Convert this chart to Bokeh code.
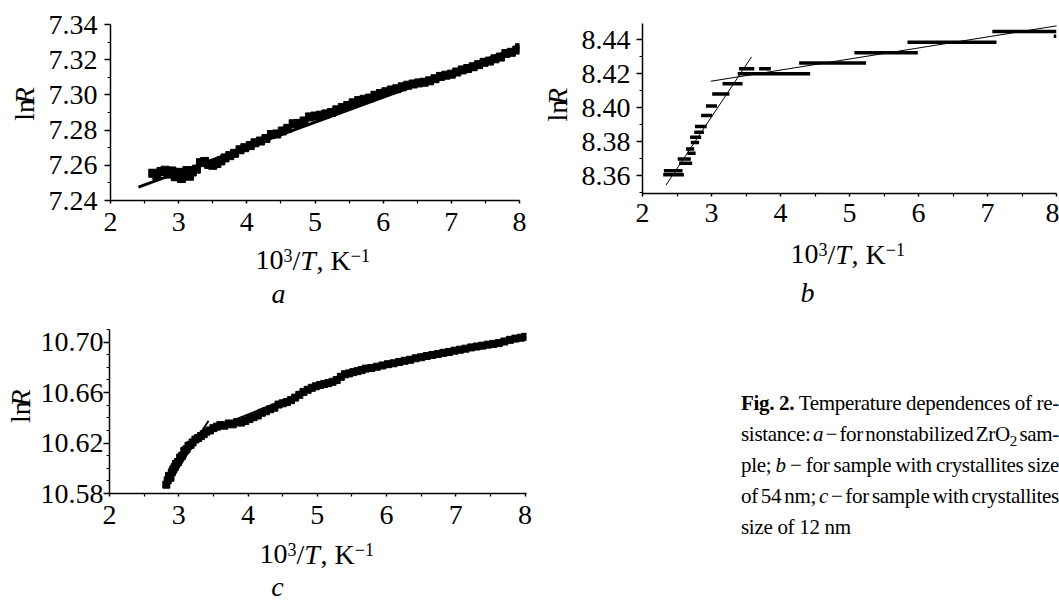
import math
from bokeh.plotting import figure
from bokeh.models import Range1d, FixedTicker, NumeralTickFormatter, Label, Div, Spacer
from bokeh.layouts import column, row
from bokeh.embed import file_html
from bokeh.resources import INLINE

FONT = "Liberation Serif"
FS = 28
SUP = 18
SHIFT = 0.29  # baseline correction, fraction of the font size

# ---------------- data ----------------
x_ticks = [2, 3, 4, 5, 6, 7, 8]
x_minor = [2.5, 3.5, 4.5, 5.5, 6.5, 7.5]

# panel a
a_y_ticks = [7.24, 7.26, 7.28, 7.30, 7.32, 7.34]
a_y_minor = [7.25, 7.27, 7.29, 7.31, 7.33]
a_x = [2.62, 2.68, 2.74, 2.80, 2.86, 2.90, 2.95, 3.00, 3.04, 3.08, 3.12, 3.16, 3.20, 3.26,
       3.32, 3.38, 3.44, 3.50, 3.56, 3.62, 3.68, 3.75, 3.82, 3.90, 3.97, 4.05, 4.12, 4.20,
       4.28, 4.36, 4.44, 4.52, 4.60, 4.68, 4.76, 4.84, 4.92, 5.00, 5.08, 5.16, 5.24, 5.32,
       5.40, 5.48, 5.56, 5.64, 5.72, 5.80, 5.88, 5.96, 6.04, 6.12, 6.20, 6.28, 6.36, 6.44,
       6.52, 6.60, 6.68, 6.76, 6.84, 6.92, 7.00, 7.08, 7.16, 7.24, 7.32, 7.40, 7.48, 7.56,
       7.64, 7.72, 7.80, 7.88, 7.96, 8.00]
a_y = [7.2555, 7.2540, 7.2565, 7.2572, 7.2550, 7.2568, 7.2535, 7.2560, 7.2525, 7.2545,
       7.2570, 7.2538, 7.2562, 7.2578, 7.2615, 7.2622, 7.2605, 7.2600, 7.2610, 7.2625,
       7.2642, 7.2655, 7.2668, 7.2688, 7.2700, 7.2712, 7.2728, 7.2738, 7.2752, 7.2775,
       7.2778, 7.2795, 7.2810, 7.2836, 7.2838, 7.2852, 7.2875, 7.2880, 7.2885, 7.2892,
       7.2900, 7.2915, 7.2928, 7.2940, 7.2955, 7.2968, 7.2975, 7.2982, 7.2998, 7.3008,
       7.3018, 7.3028, 7.3035, 7.3046, 7.3055, 7.3062, 7.3068, 7.3072, 7.3080, 7.3092,
       7.3105, 7.3112, 7.3118, 7.3130, 7.3142, 7.3150, 7.3160, 7.3172, 7.3185, 7.3192,
       7.3205, 7.3215, 7.3235, 7.3242, 7.3255, 7.3268]
a_fit_x = [2.41, 8.0]
a_fit_y = [7.2476, 7.3271]

# panel b
b_y_ticks = [8.36, 8.38, 8.40, 8.42, 8.44]
b_y_minor = [8.35, 8.37, 8.39, 8.41, 8.43]
b_x0 = [2.31, 2.30, 2.51, 2.53, 2.63, 2.65, 2.70, 2.69, 2.75, 2.76, 2.85, 2.92, 3.01,
        3.16, 3.38, 3.40, 3.69, 4.27, 5.07, 5.84, 7.07, 7.96]
b_x1 = [2.58, 2.60, 2.70, 2.72, 2.75, 2.77, 2.82, 2.85, 2.89, 2.93, 3.01, 3.08, 3.26,
        3.45, 4.43, 3.62, 3.86, 5.24, 5.99, 7.13, 8.00, 8.00]
b_y = [8.3629, 8.3606, 8.3698, 8.3673, 8.3757, 8.3733, 8.3796, 8.3826, 8.3855, 8.3889,
       8.3954, 8.4010, 8.4080, 8.4141, 8.4199, 8.4229, 8.4229, 8.4262, 8.4323, 8.4384,
       8.4447, 8.4419]
b_fit1_x = [2.34, 3.58]
b_fit1_y = [8.3545, 8.4298]
b_fit2_x = [2.99, 8.06]
b_fit2_y = [8.4155, 8.4484]

# panel c
c_y_ticks = [10.58, 10.62, 10.66, 10.70]
c_y_minor = [10.59, 10.60, 10.61, 10.63, 10.64, 10.65, 10.67, 10.68, 10.69, 10.71]
c_x = [2.82, 2.84, 2.86, 2.88, 2.90, 2.92, 2.94, 2.96, 2.99, 3.02, 3.05, 3.08, 3.11, 3.14,
       3.17, 3.20, 3.24, 3.28, 3.32, 3.36, 3.40, 3.45, 3.50, 3.55, 3.60, 3.66, 3.72, 3.78,
       3.84, 3.90, 3.96, 4.02, 4.08, 4.14, 4.20, 4.26, 4.32, 4.38, 4.44, 4.50, 4.56, 4.62,
       4.68, 4.74, 4.80, 4.86, 4.92, 4.98, 5.04, 5.10, 5.16, 5.22, 5.28, 5.34, 5.40, 5.46,
       5.52, 5.58, 5.64, 5.70, 5.78, 5.86, 5.94, 6.02, 6.10, 6.18, 6.26, 6.34, 6.42, 6.50,
       6.58, 6.66, 6.74, 6.82, 6.90, 6.98, 7.06, 7.14, 7.22, 7.30, 7.38, 7.46, 7.54, 7.62,
       7.70, 7.78, 7.86, 7.94, 8.00]
c_y = [10.5870, 10.5905, 10.5940, 10.5925, 10.5968, 10.5990, 10.6010, 10.6035, 10.6050,
       10.6085, 10.6100, 10.6138, 10.6150, 10.6178, 10.6185, 10.6205, 10.6228, 10.6240,
       10.6255, 10.6270, 10.6290, 10.6300, 10.6318, 10.6330, 10.6342, 10.6338, 10.6355,
       10.6348, 10.6365, 10.6362, 10.6375, 10.6390, 10.6405, 10.6418, 10.6440, 10.6452,
       10.6468, 10.6480, 10.6505, 10.6515, 10.6525, 10.6540, 10.6560, 10.6582, 10.6605,
       10.6622, 10.6638, 10.6650, 10.6660, 10.6668, 10.6675, 10.6685, 10.6700, 10.6725,
       10.6745, 10.6752, 10.6762, 10.6770, 10.6778, 10.6790, 10.6795, 10.6805, 10.6815,
       10.6825, 10.6832, 10.6842, 10.6852, 10.6860, 10.6872, 10.6880, 10.6890, 10.6898,
       10.6905, 10.6915, 10.6922, 10.6932, 10.6940, 10.6948, 10.6958, 10.6965, 10.6972,
       10.6980, 10.6986, 10.6992, 10.7005, 10.7018, 10.7028, 10.7035, 10.7042]
c_fit1_x = [2.83, 3.43]
c_fit1_y = [10.5860, 10.6377]
c_fit2_x = [3.40, 5.40]
c_fit2_y = [10.6295, 10.6735]
c_fit3_x = [5.35, 8.02]
c_fit3_y = [10.6745, 10.7040]

# ---------------- helpers ----------------
def base_fig(w, h, bl, br, bt, bb, xr, yr, yt, ym, ystand, xstand):
    p = figure(width=w, height=h, x_range=Range1d(*xr), y_range=Range1d(*yr),
               output_backend="svg", toolbar_location=None, title=None,
               min_border_left=bl, min_border_right=br, min_border_top=bt, min_border_bottom=bb)
    p.grid.visible = False
    p.outline_line_color = None
    for ax in (p.xaxis[0], p.yaxis[0]):
        ax.axis_line_width = 1.5
        ax.axis_line_color = "black"
        ax.major_tick_line_width = 1.5
        ax.minor_tick_line_width = 1.2
        ax.major_tick_line_color = "black"
        ax.minor_tick_line_color = "black"
        ax.major_tick_in = 0
        ax.minor_tick_in = 0
        ax.major_label_text_font = FONT
        ax.major_label_text_font_size = f"{FS}px"
        ax.major_label_text_color = "black"
    p.xaxis.ticker = FixedTicker(ticks=x_ticks, minor_ticks=x_minor)
    p.xaxis.formatter = NumeralTickFormatter(format="0")
    p.xaxis.major_tick_out = 3
    p.xaxis.minor_tick_out = 3
    p.xaxis.major_label_standoff = xstand
    p.yaxis.ticker = FixedTicker(ticks=yt, minor_ticks=ym)
    p.yaxis.formatter = NumeralTickFormatter(format="0.00")
    p.yaxis.major_tick_out = 6
    p.yaxis.minor_tick_out = 3
    p.yaxis.major_label_standoff = ystand
    return p


def helper(w, h):
    f = figure(width=w, height=h, x_range=Range1d(0, w), y_range=Range1d(0, h),
               output_backend="svg", toolbar_location=None, title=None, min_border=0,
               x_axis_location=None, y_axis_location=None)
    f.grid.visible = False
    f.outline_line_color = None
    return f


def lab(p, x, y, text, size=FS, style="normal", align="left", rotated=False):
    if rotated:
        x = x - SHIFT * size
        angle = math.pi / 2
    else:
        y = y + SHIFT * size
        angle = 0.0
    p.add_layout(Label(x=x, y=y, text=text,
                       text_font=FONT, text_font_size=f"{size}px", text_font_style=style,
                       text_color="black", text_align=align, text_baseline="alphabetic",
                       angle=angle))


def xlabel(p, x0, y0, rise=8):
    pieces = [("10", FS, "normal", 0, 1.0), ("3", SUP, "normal", rise, 0.5),
              ("/", FS, "normal", 0, 0.278), ("T", FS, "italic", 0, 0.58),
              (", K", FS, "normal", 0, 1.222), ("\u22121", SUP, "normal", rise, 1.064)]
    x = x0
    for t, s, st, r, w in pieces:
        lab(p, x, y0 + r, t, s, st)
        x += w * s


def ylabel(p, xb, yc):
    total = (0.778 + 0.611) * FS + 1
    y = yc - total / 2
    lab(p, xb, y, "ln", rotated=True)
    lab(p, xb, y + 0.778 * FS + 1, "R", style="italic", rotated=True)


# ---------------- panel a ----------------
HA = 243
ya = helper(39, HA)
ylabel(ya, 32, HA - 113)
pa = base_fig(499, HA, 71, 19, 24, HA - 200, (2, 8), (7.24, 7.34), a_y_ticks, a_y_minor, 7, 9)
pa.line(a_fit_x, a_fit_y, line_color="black", line_width=3)
pa.scatter(a_x, a_y, marker="square", size=8, color="black")
xa = helper(538, 308 - HA)
xlabel(xa, 255, 308 - 268)
lab(xa, 278, 308 - 301, "a", style="italic", align="center")
col_a = column(row(ya, pa), xa)

# ---------------- panel b ----------------
HB = 234
yb = helper(34, HB)
ylabel(yb, 27, HB - 115)
pb = base_fig(487, HB, 70, 3, 23, HB - 193, (2, 8), (8.3496, 8.4494), b_y_ticks, b_y_minor, 6, 7)
pb.segment(x0=b_x0, y0=b_y, x1=b_x1, y1=b_y, line_color="black", line_width=3.5)
pb.line(b_fit1_x, b_fit1_y, line_color="black", line_width=1)
pb.line(b_fit2_x, b_fit2_y, line_color="black", line_width=1)
xb = helper(521, 308 - HB)
xlabel(xb, 252, 308 - 262)
lab(xb, 269, 308 - 300, "b", style="italic", align="center")
col_b = column(row(yb, pb), xb)

# ---------------- panel c ----------------
HC = 228
yc = helper(37, HC)
ylabel(yc, 28, 308 + HC - 418)
pc = base_fig(511, HC, 72, 22, 21, HC - 185, (2, 8.02), (10.58, 10.71), c_y_ticks, c_y_minor, 0, 9)
pc.line(c_fit1_x, c_fit1_y, line_color="black", line_width=2)
pc.line(c_fit2_x, c_fit2_y, line_color="black", line_width=2)
pc.line(c_fit3_x, c_fit3_y, line_color="black", line_width=2)
pc.scatter(c_x, c_y, marker="square", size=7, color="black")
XCH = 294 - HC
xc = helper(548, XCH)
xlabel(xc, 259, 602 - 562)
lab(xc, 277, 602 - 594, "c", style="italic", align="center")
col_c = column(row(yc, pc), xc)

# ---------------- caption ----------------
line_style = ("text-align:justify;text-align-last:justify;white-space:nowrap;"
              "letter-spacing:-0.3px;word-spacing:-3px;")
cap = (
    "<div style=\"font-family:'Liberation Serif',serif;font-size:21px;line-height:31px;"
    "width:318px;overflow:hidden;padding-top:80px;color:black;\">"
    f"<div style=\"{line_style}\"><b>Fig. 2.</b> Temperature dependences of re-</div>"
    f"<div style=\"{line_style}\">sistance: <i>a</i> \u2212 for nonstabilized ZrO<sub style=\"font-size:15px;line-height:0;\">2</sub> sam-</div>"
    f"<div style=\"{line_style}\">ple; <i>b</i> \u2212 for sample with crystallites size</div>"
    f"<div style=\"{line_style}\">of 54 nm; <i>c</i> \u2212 for sample with crystallites</div>"
    "<div style=\"letter-spacing:-0.3px;\">size of 12 nm</div>"
    "</div>"
)
div = Div(text=cap, width=318, height=294, margin=(0, 0, 0, 0))

layout = column(row(col_a, col_b), row(col_c, Spacer(width=193, height=294), div))

open("out.html", "w").write(file_html(layout, INLINE))
